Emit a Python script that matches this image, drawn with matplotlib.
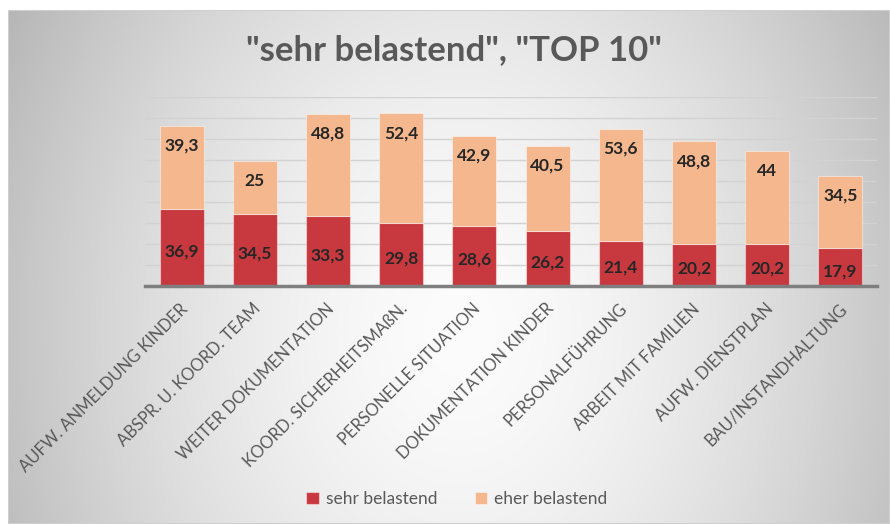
import numpy as np
import matplotlib
matplotlib.use("Agg")
import matplotlib.pyplot as plt
from matplotlib.patches import Rectangle
from matplotlib.transforms import ScaledTranslation

plt.rcParams['font.family'] = ['Lato', 'DejaVu Sans']

categories = ["AUFW. ANMELDUNG KINDER", "ABSPR. U. KOORD. TEAM", "WEITER DOKUMENTATION",
              "KOORD. SICHERHEITSMAßN.", "PERSONELLE SITUATION", "DOKUMENTATION KINDER",
              "PERSONALFÜHRUNG", "ARBEIT MIT FAMILIEN", "AUFW. DIENSTPLAN", "BAU/INSTANDHALTUNG"]
sehr_belastend = [36.9, 34.5, 33.3, 29.8, 28.6, 26.2, 21.4, 20.2, 20.2, 17.9]
eher_belastend = [39.3, 25, 48.8, 52.4, 42.9, 40.5, 53.6, 48.8, 44, 34.5]
series_names = ["sehr belastend", "eher belastend"]
title = '"sehr belastend", "TOP 10"'

RED = '#C8393F'
ORANGE = '#F4B78E'
TEXT_GRAY = '#595959'

W, H = 890, 524
fig = plt.figure(figsize=(W / 100, H / 100), dpi=100)
fig.patch.set_facecolor('white')

# background box with radial gradient
bx0, by0, bx1, by1 = 8, 10, 890, 524
bg = fig.add_axes([bx0 / W, 1 - by1 / H, (bx1 - bx0) / W, (by1 - by0) / H], zorder=0)
xs = np.linspace(bx0, bx1, bx1 - bx0)
ys = np.linspace(by0, by1, by1 - by0)
X, Y = np.meshgrid(xs, ys)
d = np.sqrt(((X - 460) / 440) ** 2 + ((Y - 330) / 560) ** 2)
d = np.clip(d, 0, 1.25)
c = 252 - 54 * d ** 1.6
c = np.clip(c, 180, 255) / 255.0
img = np.dstack([c, c, c])
bg.imshow(img, aspect='auto', extent=[0, 1, 0, 1], interpolation='bilinear')
bg.add_patch(Rectangle((0, 0), 1, 1, transform=bg.transAxes, fill=False,
                       edgecolor='#CFCFCF', lw=1.5))
bg.set_axis_off()

ax = fig.add_axes([145 / W, 1 - 286 / H, (877 - 145) / W, (286 - 97) / H], zorder=1)
ax.patch.set_alpha(0)
x = np.arange(len(categories))
b1 = ax.bar(x, sehr_belastend, width=0.6, color=RED, edgecolor=(1, 1, 1, 0.45),
            linewidth=0.8, label=series_names[0], zorder=3)
b2 = ax.bar(x, eher_belastend, width=0.6, bottom=sehr_belastend, color=ORANGE,
            edgecolor=(1, 1, 1, 0.45), linewidth=0.8, label=series_names[1], zorder=3)

ax.set_xlim(-0.5, len(categories) - 0.5)
ax.set_ylim(0, 90)
ax.set_yticks(np.arange(10, 91, 10))
ax.yaxis.grid(True, color='#D2D2D2', linewidth=1.0, zorder=1)
ax.set_axisbelow(True)
ax.tick_params(axis='y', left=False, labelleft=False)
for s in ['top', 'right', 'left']:
    ax.spines[s].set_visible(False)
ax.spines['bottom'].set_color('#7F7F7F')
ax.spines['bottom'].set_linewidth(2.5)
ax.spines['bottom'].set_zorder(4)

def fmt(v):
    return ('%g' % v).replace('.', ',')

for xi, s, e in zip(x, sehr_belastend, eher_belastend):
    ax.annotate(fmt(s), (xi, s / 2), xytext=(0, -4), textcoords='offset pixels',
                ha='center', va='center', fontsize=12.5, fontweight='bold',
                color='#262626', zorder=5)
    ax.annotate(fmt(e), (xi, s + e), xytext=(0, -20), textcoords='offset pixels',
                ha='center', va='center', fontsize=12.5, fontweight='bold',
                color='#262626', zorder=5)

ax.set_xticks(x)
ax.set_xticklabels(categories, rotation=45, ha='right', va='top',
                   rotation_mode='anchor', fontsize=12, color=TEXT_GRAY)
ax.tick_params(axis='x', bottom=False, pad=7)
for lbl in ax.get_xticklabels():
    lbl.set_transform(lbl.get_transform() + ScaledTranslation(-2 / 100, 0, fig.dpi_scale_trans))

fig.text(454 / W, 1 - 50 / H, title, ha='center', va='center', fontsize=25,
         fontweight='bold', color=TEXT_GRAY)

leg = fig.legend(handles=[b1, b2], labels=series_names, loc='center',
                 bbox_to_anchor=(457 / W, 1 - 499 / H), ncol=2, frameon=False,
                 fontsize=12.5, handlelength=0.7, handleheight=0.7, handletextpad=0.4,
                 columnspacing=2.2, labelcolor=TEXT_GRAY)

fig.savefig('out.png', dpi=100)
